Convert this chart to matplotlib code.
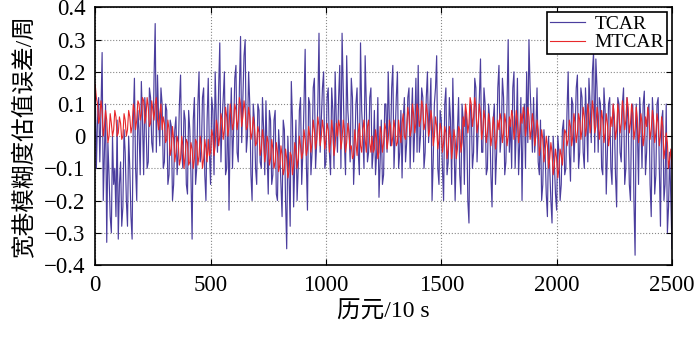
import numpy as np
import matplotlib
matplotlib.use('Agg')
import matplotlib.pyplot as plt

plt.rcParams['font.family'] = ['Liberation Serif', 'Noto Sans CJK SC']

# epochs 0, 10, ..., 2500 and the in-between epochs 5, 15, ..., 2495
epochs_main = np.arange(0, 2510, 10)
epochs_mid = np.arange(5, 2500, 10)

# TCAR wide-lane ambiguity error (cycles)
tcar = [
    0.16, 0.05, -0.08, 0.26, -0.05, -0.33, -0.12, -0.30, -0.15, -0.25,
    -0.32, -0.08, -0.22, -0.05, -0.28, -0.10, -0.32, 0.18, -0.20, 0.02,
    0.17, -0.12, 0.05, -0.08, 0.12, -0.05, 0.35, 0.19, -0.03, 0.10,
    -0.08, 0.08, -0.12, 0.03, -0.15, 0.06, -0.05, 0.19, -0.10, 0.05,
    -0.18, 0.02, -0.32, 0.12, -0.10, 0.20, -0.05, 0.15, -0.20, 0.18,
    -0.15, 0.08, 0.20, -0.05, 0.29, 0.05, 0.20, -0.10, -0.23, 0.15,
    0.02, 0.22, -0.08, 0.31, 0.12, 0.30, 0.00, 0.10, -0.20, 0.05,
    -0.15, 0.08, -0.10, 0.02, 0.11, -0.18, 0.05, -0.12, 0.08, -0.20,
    -0.05, -0.25, 0.02, -0.35, -0.12, 0.17, -0.22, 0.05, -0.10, 0.12,
    -0.05, 0.27, -0.23, 0.10, -0.05, 0.18, -0.02, 0.32, 0.05, 0.20,
    -0.08, 0.15, -0.12, 0.08, 0.20, -0.05, 0.22, 0.32, -0.02, 0.25,
    0.02, 0.18, -0.15, 0.10, -0.05, 0.29, 0.00, 0.25, -0.08, 0.12,
    -0.10, 0.08, -0.05, -0.19, 0.05, -0.12, 0.10, 0.20, -0.03, 0.22,
    0.00, 0.20, -0.05, -0.13, 0.12, -0.02, 0.15, 0.05, -0.08, 0.18,
    0.22, 0.00, 0.12, -0.05, 0.20, 0.08, -0.20, 0.10, 0.25, -0.15,
    0.05, -0.20, 0.15, -0.08, 0.05, 0.18, -0.20, 0.02, -0.12, 0.10,
    -0.15, 0.05, -0.27, 0.08, -0.05, 0.15, 0.02, 0.24, -0.05, 0.10,
    -0.10, 0.05, -0.22, 0.10, -0.05, 0.22, 0.00, 0.12, -0.08, 0.30,
    0.05, 0.15, -0.10, 0.18, -0.02, -0.20, 0.10, 0.20, 0.30, 0.05,
    0.12, 0.02, -0.08, 0.05, -0.15, -0.05, -0.25, -0.10, -0.27, -0.08,
    -0.23, -0.05, -0.15, 0.05, -0.10, 0.20, -0.14, 0.10, 0.02, 0.19,
    -0.05, 0.12, -0.10, 0.05, 0.18, -0.02, 0.26, 0.24, -0.05, 0.10,
    -0.12, 0.08, -0.05, 0.12, -0.15, 0.05, -0.22, 0.10, -0.08, 0.15,
    -0.10, 0.05, -0.20, 0.10, -0.37, 0.02, 0.12, -0.10, 0.14, -0.05,
    0.10, -0.25, 0.05, -0.12, 0.12, -0.28, 0.08, -0.15, -0.30, -0.05,
    -0.35,
]
tcar_mid = [
    -0.10, 0.12, 0.08, -0.20, 0.10, -0.02, -0.25, 0.00, -0.10, 0.05,
    -0.15, -0.28, 0.02, -0.20, 0.00, -0.25, 0.05, -0.10, 0.08, -0.12,
    0.05, 0.12, -0.10, 0.15, -0.02, 0.18, -0.05, 0.05, 0.15, -0.10,
    0.10, -0.15, 0.05, -0.20, 0.02, -0.12, 0.10, -0.05, 0.08, -0.15,
    0.08, -0.12, 0.05, -0.15, 0.10, -0.08, 0.12, -0.12, 0.05, -0.05,
    0.12, -0.12, 0.05, 0.15, -0.08, 0.12, -0.12, 0.10, 0.02, -0.10,
    0.18, -0.05, 0.15, -0.02, 0.25, -0.05, 0.20, -0.12, 0.10, -0.10,
    0.10, -0.08, 0.12, -0.12, -0.05, 0.08, -0.15, 0.05, -0.18, 0.02,
    -0.15, 0.05, -0.20, 0.00, -0.28, 0.05, -0.08, -0.20, 0.08, -0.15,
    0.10, -0.08, 0.12, -0.12, 0.15, -0.10, 0.10, -0.05, 0.15, -0.10,
    0.12, -0.05, 0.15, -0.10, 0.05, 0.12, -0.10, 0.15, -0.12, 0.08,
    -0.08, 0.12, -0.05, 0.15, -0.12, 0.08, -0.10, 0.10, -0.05, 0.15,
    -0.05, -0.12, 0.12, -0.08, -0.15, 0.10, -0.05, 0.05, 0.15, -0.10,
    0.12, -0.10, 0.08, 0.05, -0.08, 0.12, -0.10, 0.15, 0.02, -0.05,
    -0.05, 0.15, -0.10, 0.12, -0.02, 0.18, -0.08, 0.15, -0.10, 0.08,
    -0.10, 0.10, -0.12, 0.12, -0.15, 0.00, -0.05, 0.12, -0.18, 0.05,
    0.08, -0.20, 0.10, -0.10, 0.18, -0.08, 0.12, -0.05, 0.15, -0.12,
    0.10, -0.12, 0.05, -0.15, 0.15, -0.05, 0.18, -0.12, 0.10, -0.05,
    -0.10, 0.20, 0.02, -0.12, 0.12, 0.05, -0.10, -0.02, 0.15, -0.05,
    -0.05, 0.15, -0.12, -0.20, 0.02, -0.18, 0.00, -0.20, 0.00, -0.18,
    0.00, -0.20, 0.02, -0.12, 0.08, -0.05, 0.12, -0.08, 0.15, -0.10,
    0.15, -0.05, 0.15, -0.08, 0.10, 0.20, -0.05, 0.15, 0.12, -0.10,
    0.15, -0.18, 0.10, -0.10, 0.10, -0.12, 0.12, -0.05, 0.10, -0.15,
    0.12, -0.15, 0.08, -0.20, 0.10, -0.15, 0.05, 0.10, -0.12, 0.08,
    -0.15, 0.12, -0.18, 0.10, -0.10, 0.05, -0.20, 0.10, -0.22, -0.20,
]

# MTCAR wide-lane ambiguity error (cycles)
mtcar = [
    0.16, 0.10, 0.06, 0.08, 0.03, 0.05, 0.00, 0.04, 0.02, 0.06,
    0.01, 0.04, 0.00, 0.05, 0.02, 0.06, 0.03, 0.08, 0.05, 0.10,
    0.07, 0.11, 0.06, 0.09, 0.04, 0.08, 0.10, 0.05, 0.07, 0.02,
    0.04, -0.01, 0.02, -0.04, -0.01, -0.05, -0.02, -0.07, -0.03, -0.06,
    -0.02, -0.08, -0.04, -0.07, -0.02, -0.06, -0.03, -0.07, -0.04, -0.01,
    -0.05, 0.00, -0.03, 0.03, 0.00, 0.05, 0.02, 0.06, 0.03, 0.07,
    0.04, 0.08, 0.05, 0.10, 0.06, 0.08, 0.03, 0.06, 0.01, 0.03,
    -0.02, 0.01, -0.04, -0.01, -0.05, -0.02, -0.07, -0.04, -0.08, -0.05,
    -0.09, -0.06, -0.10, -0.07, -0.11, -0.06, -0.09, -0.04, -0.07, -0.03,
    -0.05, -0.01, -0.04, 0.00, -0.02, 0.02, -0.01, 0.03, 0.00, 0.02,
    -0.01, 0.02, -0.02, 0.01, -0.03, 0.00, 0.03, -0.01, 0.02, -0.02,
    0.01, -0.03, -0.06, -0.02, 0.01, -0.03, 0.02, -0.01, 0.03, -0.02,
    0.00, -0.04, -0.01, -0.05, 0.01, -0.02, 0.02, -0.01, 0.03, 0.00,
    0.02, -0.02, 0.01, 0.04, 0.00, 0.03, 0.06, 0.02, 0.07, 0.04,
    0.08, 0.05, 0.09, 0.04, 0.07, 0.02, 0.05, 0.00, 0.03, -0.01,
    0.02, -0.02, 0.01, -0.04, 0.00, -0.03, -0.01, -0.04, 0.02, -0.02,
    0.03, 0.07, 0.04, 0.10, 0.06, 0.09, 0.04, 0.07, 0.02, 0.05,
    0.01, 0.04, 0.00, 0.03, -0.01, 0.02, 0.05, 0.01, 0.04, 0.00,
    0.03, 0.06, 0.02, 0.05, 0.01, 0.04, 0.07, 0.03, 0.06, 0.02,
    0.04, 0.00, 0.02, -0.03, -0.01, -0.05, -0.03, -0.07, -0.05, -0.09,
    -0.07, -0.10, -0.06, -0.02, 0.01, -0.01, 0.03, 0.00, 0.04, 0.01,
    0.05, 0.02, 0.06, 0.03, 0.07, 0.04, 0.08, 0.03, 0.06, 0.02,
    0.05, 0.01, 0.04, 0.00, 0.03, 0.06, 0.02, 0.07, 0.04, 0.08,
    0.05, 0.09, 0.04, 0.07, 0.02, 0.05, 0.01, 0.04, 0.00, 0.03,
    0.06, 0.02, 0.05, 0.01, 0.04, 0.00, 0.03, -0.04, -0.02, -0.07,
    -0.10,
]
mtcar_mid = [
    0.12, 0.04, 0.11, 0.00, 0.08, -0.02, 0.07, 0.00, 0.08, 0.00,
    0.06, -0.01, 0.07, 0.00, 0.08, 0.01, 0.10, 0.02, 0.11, 0.05,
    0.12, 0.04, 0.12, 0.03, 0.11, 0.05, 0.12, 0.02, 0.10, 0.06,
    -0.02, 0.05, -0.06, 0.03, -0.08, 0.00, -0.09, 0.00, -0.10, -0.01,
    -0.09, -0.02, -0.10, -0.01, -0.09, 0.00, -0.10, -0.01, -0.08, -0.06,
    0.02, -0.06, 0.05, -0.03, 0.07, -0.01, 0.09, 0.00, 0.10, 0.02,
    0.10, 0.02, 0.12, 0.03, 0.11, 0.02, 0.09, -0.01, 0.06, -0.03,
    0.03, -0.06, 0.02, -0.08, 0.00, -0.09, -0.01, -0.10, -0.02, -0.11,
    -0.03, -0.12, -0.04, -0.13, -0.05, -0.12, -0.02, -0.10, 0.00, -0.07,
    0.02, -0.06, 0.03, -0.05, 0.05, -0.04, 0.06, -0.03, 0.05, -0.04,
    0.04, -0.05, 0.05, -0.06, 0.04, 0.05, -0.04, 0.05, -0.05, 0.04,
    -0.04, -0.07, 0.02, -0.06, 0.04, -0.05, 0.05, -0.05, 0.05, -0.05,
    -0.05, 0.02, -0.07, 0.03, -0.05, 0.04, -0.04, 0.05, -0.03, 0.05,
    -0.03, 0.05, -0.02, 0.07, -0.01, 0.09, 0.00, 0.10, 0.01, 0.10,
    0.03, 0.11, 0.02, 0.10, 0.00, 0.08, -0.03, 0.06, -0.04, 0.04,
    -0.05, 0.03, -0.07, 0.03, -0.07, 0.02, -0.07, 0.03, -0.05, 0.06,
    0.10, 0.01, 0.12, 0.03, 0.12, 0.01, 0.10, -0.01, 0.08, -0.02,
    0.07, -0.03, 0.06, -0.04, 0.05, 0.07, -0.02, 0.07, -0.03, 0.06,
    0.08, -0.01, 0.08, -0.02, 0.07, 0.09, 0.00, 0.09, -0.01, 0.07,
    -0.03, 0.05, -0.06, 0.02, -0.08, 0.00, -0.10, -0.02, -0.12, -0.04,
    -0.13, -0.04, -0.09, 0.02, -0.03, 0.05, -0.03, 0.07, -0.02, 0.07,
    -0.01, 0.09, 0.00, 0.10, 0.01, 0.11, 0.01, 0.09, -0.01, 0.08,
    -0.02, 0.07, -0.03, 0.06, 0.10, -0.01, 0.10, 0.01, 0.11, 0.02,
    0.12, 0.01, 0.10, -0.01, 0.09, -0.02, 0.07, -0.03, 0.06, 0.09,
    -0.01, 0.08, -0.02, 0.07, -0.03, 0.06, -0.07, 0.01, -0.10, -0.04,
]

xticks = [0, 500, 1000, 1500, 2000, 2500]
yticks = [-0.4, -0.3, -0.2, -0.1, 0, 0.1, 0.2, 0.3, 0.4]
ytick_labels = ['\u22120.4', '\u22120.3', '\u22120.2', '\u22120.1', '0', '0.1', '0.2', '0.3', '0.4']

# merge the two samplings into one time-ordered series
epochs = np.empty(501)
epochs[0::2] = epochs_main
epochs[1::2] = epochs_mid
tcar_all = np.empty(501)
tcar_all[0::2] = tcar
tcar_all[1::2] = tcar_mid
mtcar_all = np.empty(501)
mtcar_all[0::2] = mtcar
mtcar_all[1::2] = mtcar_mid

fig = plt.figure(figsize=(7, 3.4), dpi=100)
ax = fig.add_axes([0.136, 0.221, 0.824, 0.757])

ax.plot(epochs, tcar_all, color='#4b3e9e', lw=0.85, label='TCAR')
ax.plot(epochs, mtcar_all, color='#e8282b', lw=0.8, label='MTCAR')

ax.set_xlim(0, 2500)
ax.set_ylim(-0.4, 0.4)
ax.set_xticks(xticks)
ax.set_yticks(yticks)
ax.set_yticklabels(ytick_labels)
ax.tick_params(direction='in', top=True, right=True, labelsize=16.5, length=4)
ax.tick_params(axis='x', pad=7)
ax.tick_params(axis='y', pad=7)
ax.grid(True, linestyle=':', color='#888888', lw=0.8)
for s in ax.spines.values():
    s.set_linewidth(1.2)

ax.set_xlabel('历元/10 s', fontsize=17, labelpad=4)
ax.set_ylabel('宽巷模糊度估值误差/周', fontsize=17, labelpad=6)

leg = ax.legend(loc='upper right', fontsize=14, fancybox=False, framealpha=1,
                edgecolor='black', borderaxespad=0.25, handlelength=1.8,
                borderpad=0.15, labelspacing=0.05, handletextpad=0.5)
leg.get_frame().set_linewidth(1.2)

fig.savefig('out.png', dpi=100)
